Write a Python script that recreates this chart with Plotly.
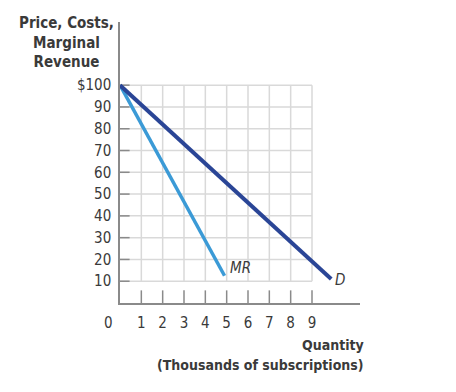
import plotly.graph_objects as go

# Data
d_quantity = [0, 9.9]
d_price = [100, 11]
mr_quantity = [0, 4.9]
mr_price = [100, 12.5]
x_ticks = [1, 2, 3, 4, 5, 6, 7, 8, 9]
y_ticks = [10, 20, 30, 40, 50, 60, 70, 80, 90, 100]
y_tick_labels = ["10", "20", "30", "40", "50", "60", "70", "80", "90", "$100"]

FONT = "DejaVu Sans Condensed"
TXT = "#3a3a3a"
GRID = "#d9d9d9"
AXIS = "#8a8a8a"


def f(size=15, weight="normal"):
    return dict(family=FONT, size=size, color=TXT, weight=weight)


# page is offset by the 8px body margin
OFF = 8
W, H = 456 - OFF, 392 - OFF
PL, PR, PT, PB = 120, 360, 22, 303  # plot area in page pixels
ml, mr_, mt, mb = PL - OFF, 456 - PR, PT - OFF, 392 - PB
pw, ph = PR - PL, PB - PT


def px_x(p):
    return (p - PL) / pw


def px_y(p):
    return (PB - p) / ph


fig = go.Figure()

shapes = []
for xv in x_ticks:
    shapes.append(dict(type="line", xref="x", yref="y", x0=xv, x1=xv, y0=min(y_ticks), y1=max(y_ticks),
                       line=dict(color=GRID, width=1.5), layer="below"))
for yv in y_ticks:
    shapes.append(dict(type="line", xref="x", yref="y", x0=0, x1=max(x_ticks), y0=yv, y1=yv,
                       line=dict(color=GRID, width=1.5), layer="below"))
for yv in y_ticks:
    shapes.append(dict(type="line", xref="x", yref="y", x0=0, x1=0.45, y0=yv, y1=yv,
                       line=dict(color=AXIS, width=1.5), layer="below"))
for xv in x_ticks:
    shapes.append(dict(type="line", xref="x", yref="y", x0=xv, x1=xv, y0=0, y1=5.8,
                       line=dict(color=AXIS, width=1.5), layer="below"))

fig.add_trace(go.Scatter(x=mr_quantity, y=mr_price, mode="lines",
                         line=dict(color="#3b9ad6", width=3.5), hoverinfo="skip", showlegend=False))
fig.add_trace(go.Scatter(x=d_quantity, y=d_price, mode="lines",
                         line=dict(color="#2a4596", width=4), hoverinfo="skip", showlegend=False))

annotations = [
    dict(x=mr_quantity[-1], y=mr_price[-1], xref="x", yref="y", text="<i>MR</i>", showarrow=False,
         xanchor="left", yanchor="bottom", xshift=3, yshift=-3, font=f(15)),
    dict(x=d_quantity[-1], y=d_price[-1], xref="x", yref="y", text="<i>D</i>", showarrow=False,
         xanchor="left", yanchor="middle", xshift=2, yshift=-1, font=f(15)),
    dict(x=px_x(108), y=px_y(323), xref="paper", yref="paper", text="0", showarrow=False,
         xanchor="center", yanchor="middle", font=f(15)),
    dict(x=px_x(66), y=px_y(42), xref="paper", yref="paper", text="Price, Costs,<br>Marginal<br>Revenue",
         showarrow=False, xanchor="center", yanchor="middle", align="center", font=f(15, "bold")),
    dict(x=px_x(366), y=px_y(345), xref="paper", yref="paper", text="Quantity",
         showarrow=False, xanchor="right", yanchor="middle", align="right", font=f(14, "bold")),
    dict(x=px_x(366), y=px_y(365), xref="paper", yref="paper", text="(Thousands of subscriptions)",
         showarrow=False, xanchor="right", yanchor="middle", align="right", font=f(14, "bold")),
]

fig.update_layout(
    width=W, height=H,
    margin=dict(l=ml, r=mr_, t=mt, b=mb, autoexpand=False),
    paper_bgcolor="white", plot_bgcolor="white",
    shapes=shapes, annotations=annotations,
    xaxis=dict(range=[0, 11.25], tickvals=x_ticks, ticktext=[str(v) for v in x_ticks],
               showgrid=False, zeroline=False, showline=True, linecolor=AXIS, linewidth=1.5,
               ticks="", ticklabelstandoff=5, tickfont=f(15), automargin=False,
               fixedrange=True),
    yaxis=dict(range=[0, 129], tickvals=y_ticks, ticktext=y_tick_labels,
               showgrid=False, zeroline=False, showline=True, linecolor=AXIS, linewidth=1.5,
               ticks="", ticklabelstandoff=4, tickfont=f(15), automargin=False,
               fixedrange=True),
)

fig.write_html("out.html")
